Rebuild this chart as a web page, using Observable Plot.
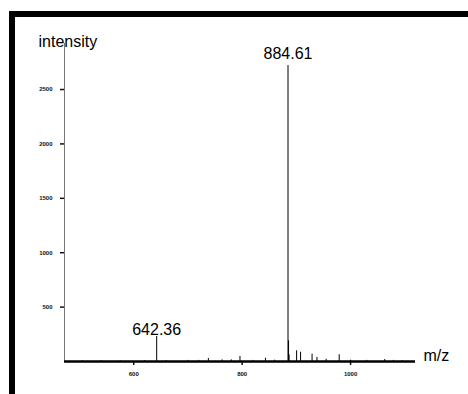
<!DOCTYPE html>
<html><head><meta charset="utf-8">
<script src="https://cdn.jsdelivr.net/npm/d3@7"></script>
<script src="https://cdn.jsdelivr.net/npm/@observablehq/plot@0.6"></script>
<style>
html,body{margin:0;padding:0;background:#fff;}
#wrap{position:relative;width:468px;height:394px;overflow:hidden;background:#fff;}
#frame{position:absolute;left:9px;top:11px;right:-10px;bottom:-10px;border-left:6px solid #000;border-top:6px solid #000;pointer-events:none;}
#chart{position:absolute;left:0;top:0;}
</style></head><body>
<div id="wrap"><div id="chart"></div><div id="frame"></div></div>
<script>
// peak list (m/z, intensity)
const peakMz =        [505, 540, 575, 620, 642.36, 660, 700, 720, 737.7, 763, 780, 796, 820, 843, 860, 884.61, 885.6, 886.6, 900.5, 907.8, 929, 938, 955, 979, 1000, 1030, 1063, 1079, 1095];
const peakIntensity = [6,   8,   6,   8,   230,    8,   10,  10,  28,    15,  15,  46,  10,  30,  12,  2720,   190,   60,    98,    85,    67,  37,  20,  62,  12,   10,   18,   10,   8];
const labelMz = [642.36, 884.61];
const labelIntensity = [230, 2720];
const labelText = ["642.36", "884.61"];
const xTicks = [600, 800, 1000];
const xTickLabels = ["600", "800", "1000"];
const yTicks = [500, 1000, 1500, 2000, 2500];
const yTickLabels = ["500", "1000", "1500", "2000", "2500"];
const xLabel = "m/z";
const yLabel = "intensity";

const peaks = peakMz.map((mz, i) => ({mz, intensity: peakIntensity[i]}));
const labels = labelMz.map((mz, i) => ({mz, intensity: labelIntensity[i], text: labelText[i]}));

const plot = Plot.plot({
  width: 468, height: 394,
  marginLeft: 64, marginRight: 53, marginTop: 43, marginBottom: 33,
  style: {background: "transparent", fontFamily: "'Liberation Sans', Arial, sans-serif", color: "#000", overflow: "visible"},
  x: {domain: [472.3, 1119.8]},
  y: {domain: [0, 2923]},
  marks: [
    Plot.frame({anchor: "left", stroke: "#777", strokeWidth: 1}),
    Plot.axisY({ticks: yTicks, tickFormat: d => yTickLabels[yTicks.indexOf(d)], tickSize: 4, tickPadding: 8, label: null, fontSize: 6, fontWeight: "bold", strokeWidth: 1.5, color: "#111"}),
    Plot.axisX({ticks: xTicks, tickFormat: d => xTickLabels[xTicks.indexOf(d)], tickSize: 4, tickPadding: 6, label: null, fontSize: 6, fontWeight: "bold", strokeWidth: 1.5, color: "#111"}),
    Plot.ruleY([0], {stroke: "#000", strokeWidth: 2.5}),
    Plot.ruleX(peaks, {x: "mz", y1: 0, y2: "intensity", stroke: "#000", strokeWidth: 1}),
    Plot.text(labels.filter(d => d.mz > 800), {x: "mz", y: "intensity", text: "text", dy: -12, fontSize: 16, fill: "#000"}),
    Plot.text(labels.filter(d => d.mz < 800), {x: "mz", y: "intensity", text: "text", dy: -7, fontSize: 16, fill: "#000"}),
    Plot.text([yLabel], {frameAnchor: "top-left", text: d => d, dx: -26, dy: -7.6, textAnchor: "start", fontSize: 16, fill: "#000"}),
    Plot.text([xLabel], {frameAnchor: "bottom-right", text: d => d, dx: 8, dy: -1, textAnchor: "start", fontSize: 16, fill: "#000"})
  ]
});
document.getElementById("chart").appendChild(plot);
</script>
</body></html>
